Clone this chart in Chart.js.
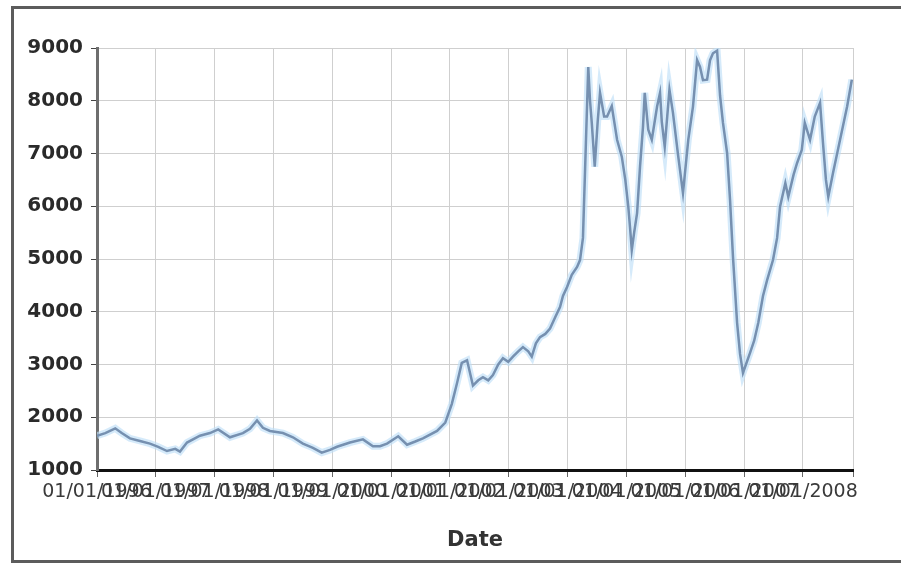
<!DOCTYPE html>
<html>
<head>
<meta charset="utf-8">
<script src="https://cdn.jsdelivr.net/npm/chart.js@4"></script>
<style>
  body { margin: 0; background: #fff; }
  #wrap { position: relative; width: 901px; height: 563px; }
  #frame {
    position: absolute; left: 11px; top: 6px; width: 895px; height: 551px;
    border-left: 3px solid #5c5c5c; border-top: 3px solid #5c5c5c; border-bottom: 3px solid #5c5c5c;
    pointer-events: none;
  }
</style>
</head>
<body>
<div id="wrap">
  <canvas id="chart" width="901" height="563"></canvas>
  <div id="frame"></div>
</div>
<script>
// decimal years
const years = [
  1996.00, 1996.14, 1996.31, 1996.42, 1996.56, 1996.73, 1996.90, 1997.04, 1997.19, 1997.33,
  1997.41, 1997.53, 1997.75, 1997.92, 1998.06, 1998.26, 1998.48, 1998.60, 1998.72, 1998.82,
  1998.94, 1999.16, 1999.33, 1999.50, 1999.67, 1999.82, 1999.96, 2000.08, 2000.30, 2000.52,
  2000.69, 2000.81, 2000.93, 2001.12, 2001.27, 2001.41, 2001.54, 2001.78, 2001.92, 2002.03,
  2002.12, 2002.20, 2002.29, 2002.39, 2002.48, 2002.56, 2002.65, 2002.73, 2002.82, 2002.90,
  2002.99, 2003.07, 2003.16, 2003.24, 2003.33, 2003.39, 2003.46, 2003.53, 2003.62, 2003.70,
  2003.79, 2003.87, 2003.92, 2003.99, 2004.07, 2004.16, 2004.21, 2004.26, 2004.31, 2004.35,
  2004.38, 2004.41, 2004.46, 2004.51, 2004.55, 2004.62, 2004.67, 2004.75, 2004.84, 2004.92,
  2004.98, 2005.03, 2005.06, 2005.09, 2005.13, 2005.18, 2005.23, 2005.28, 2005.31, 2005.37,
  2005.43, 2005.52, 2005.57, 2005.60, 2005.65, 2005.73, 2005.79, 2005.88, 2005.96, 2006.05,
  2006.13, 2006.20, 2006.25, 2006.30, 2006.37, 2006.42, 2006.47, 2006.54, 2006.59, 2006.64,
  2006.71, 2006.76, 2006.81, 2006.88, 2006.93, 2006.98, 2007.03, 2007.10, 2007.17, 2007.24,
  2007.32, 2007.39, 2007.49, 2007.56, 2007.61, 2007.70, 2007.75, 2007.84, 2007.90, 2007.98,
  2008.03, 2008.12, 2008.20, 2008.29, 2008.34, 2008.39, 2008.43, 2008.51, 2008.63, 2008.75,
  2008.83
];
const values = [
  1650, 1700, 1790, 1700, 1600, 1550, 1500, 1440, 1360, 1400,
  1350, 1520, 1650, 1700, 1770, 1620, 1700, 1780, 1940, 1800,
  1740, 1700, 1620, 1500, 1420, 1330, 1380, 1440, 1520, 1580,
  1450, 1450, 1500, 1640, 1480, 1540, 1600, 1740, 1900, 2250,
  2650, 3030, 3080, 2600, 2700, 2760, 2700, 2800, 3000, 3120,
  3050, 3150, 3250, 3330, 3250, 3150, 3400, 3520, 3580, 3680,
  3900, 4090, 4300, 4470, 4700, 4850, 4980, 5400, 7200, 8640,
  8000, 7580, 6750, 7600, 8150, 7700, 7700, 7900, 7260, 6940,
  6500, 6000, 5600, 5170, 5500, 5870, 6750, 7500, 8150, 7450,
  7260, 7890, 8150, 7600, 7130, 8210, 7770, 6940, 6250, 7260,
  7890, 8770, 8640, 8390, 8400, 8770, 8900, 8950, 8100, 7580,
  7010, 6120, 5040, 3790, 3200, 2840, 3000, 3220, 3450, 3790,
  4300, 4600, 4980, 5400, 5990, 6440, 6180, 6600, 6820, 7070,
  7580, 7260, 7700, 7960, 7200, 6500, 6180, 6630, 7260, 7890,
  8400
];
const xTickYears = [1996, 1997, 1998, 1999, 2000, 2001, 2002, 2003, 2004, 2005, 2006, 2007, 2008];
const yTicks = [1000, 2000, 3000, 4000, 5000, 6000, 7000, 8000, 9000];
const xMin = 1996;
const xMax = 2008.85;
const xTitle = 'Date';

const points = years.map((x, i) => ({ x: x, y: values[i] }));
const ctx = document.getElementById("chart").getContext("2d");

new Chart(ctx, {
  type: 'line',
  data: {
    datasets: [
      {
        data: points,
        borderColor: '#7690b0',
        borderWidth: 2.5,
        pointRadius: 0,
        tension: 0
      },
      {
        data: points,
        borderColor: 'rgba(190, 222, 247, 0.65)',
        borderWidth: 7,
        pointRadius: 0,
        tension: 0
      }
    ]
  },
  options: {
    responsive: false,
    animation: false,
    events: [],
    layout: { padding: { left: 0, top: 48, right: 48, bottom: 0 } },
    plugins: { legend: { display: false }, tooltip: { enabled: false } },
    scales: {
      x: {
        type: 'linear',
        min: xMin,
        max: xMax,
        afterFit: scale => { scale.height = 93; },
        afterBuildTicks: scale => {
          scale.ticks = xTickYears.map(v => ({ value: v })).concat([{ value: xMax }]);
        },
        ticks: {
          autoSkip: false,
          maxRotation: 0,
          minRotation: 0,
          padding: 4,
          color: '#3a3a3a',
          font: { family: 'DejaVu Sans', size: 19 },
          callback: v => Number.isInteger(v) ? '01/01/' + v : ''
        },
        grid: { color: '#cfcfcf', tickColor: '#666', tickLength: 7 },
        border: { color: '#111', width: 3 },
        title: {
          display: true,
          text: xTitle,
          color: '#333',
          font: { family: 'DejaVu Sans', size: 21, weight: 'bold' },
          padding: { top: 0, bottom: 10 }
        }
      },
      y: {
        min: 1000,
        max: 9000,
        afterFit: scale => { scale.width = 97; },
        afterBuildTicks: scale => { scale.ticks = yTicks.map(v => ({ value: v })); },
        ticks: {
          padding: 8,
          color: '#2a2a2a',
          font: { family: 'DejaVu Sans', size: 20, weight: 'bold' },
          callback: v => String(v)
        },
        grid: { color: '#cfcfcf', tickColor: '#444', tickLength: 6 },
        border: { color: '#6e6e6e', width: 3 }
      }
    }
  }
});
</script>
</body>
</html>
